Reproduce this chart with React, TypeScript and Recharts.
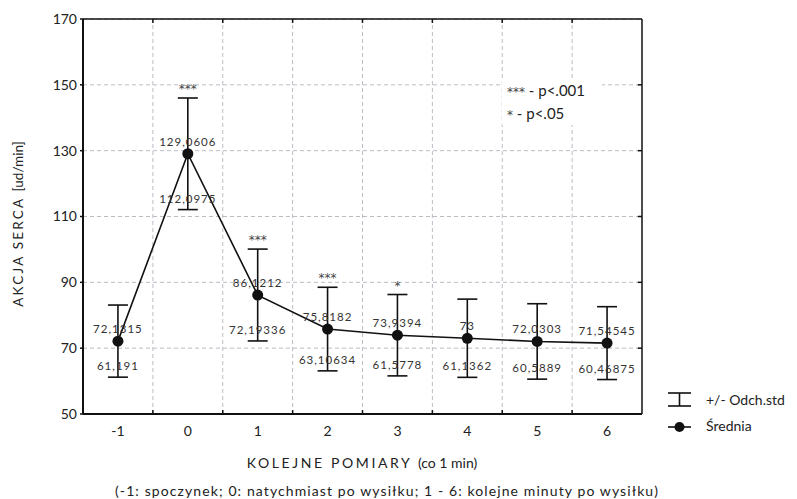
import React from 'react';
import {
  ComposedChart,
  Line,
  XAxis,
  YAxis,
  CartesianGrid,
  ErrorBar,
  LabelList,
  ReferenceLine,
} from 'recharts';

// pomiary: -1 spoczynek, 0 zaraz po wysiłku, 1-6 kolejne minuty
const pomiary = [-1, 0, 1, 2, 3, 4, 5, 6];
const srednia = [72.1315, 129.0606, 86.1212, 75.8182, 73.9394, 73, 72.0303, 71.54545];
const dolna = [61.191, 112.0975, 72.19336, 63.10634, 61.5778, 61.1362, 60.5889, 60.46875];
const gorna = [83.1, 146, 100.1, 88.5, 86.3, 84.9, 83.5, 82.6];
const istotnosc = ['', '***', '***', '***', '*', '', '', ''];

const yTicks = [50, 70, 90, 110, 130, 150, 170];
const granice = [-0.5, 0.5, 1.5, 2.5, 3.5, 4.5, 5.5];

const data = pomiary.map((p, i) => ({
  pomiar: p,
  srednia: srednia[i],
  dolna: dolna[i],
  gorna: gorna[i],
  odch: [srednia[i] - dolna[i], gorna[i] - srednia[i]],
  gwiazdki: istotnosc[i],
}));

const FONT = 'Lato, "Open Sans", sans-serif';
const STAR_FONT = '"DejaVu Sans", sans-serif';
const plNum = (v: any) => String(v).replace('.', ',');

const gridStroke = '#b9bdc4';

export default function App() {
  return (
    <div style={{ position: 'absolute', left: 0, top: 0, width: 797, height: 499, background: '#fff', fontFamily: FONT }}>
      <ComposedChart
        width={797}
        height={499}
        data={data}
        margin={{ top: 19, right: 155, left: 23, bottom: 55 }}
      >
        <CartesianGrid vertical={false} stroke={gridStroke} strokeDasharray="4 3" />
        {granice.map((g) => (
          <ReferenceLine key={'v' + g} x={g} stroke={gridStroke} strokeDasharray="4 3" />
        ))}
        {granice.map((g) => (
          <ReferenceLine key={'b' + g} segment={[{ x: g, y: 50 }, { x: g, y: 51.2 }]} stroke="#111" strokeWidth={1.5} />
        ))}
        {granice.map((g) => (
          <ReferenceLine key={'t' + g} segment={[{ x: g, y: 168.8 }, { x: g, y: 170 }]} stroke="#111" strokeWidth={1.5} />
        ))}
        {yTicks.slice(1, -1).map((t) => (
          <ReferenceLine key={'r' + t} segment={[{ x: 6.44, y: t }, { x: 6.5, y: t }]} stroke="#111" strokeWidth={1.5} />
        ))}
        <ReferenceLine y={170} stroke="#111" strokeWidth={1.5} />
        <ReferenceLine x={6.5} stroke="#111" strokeWidth={1.5} />
        <XAxis
          dataKey="pomiar"
          type="number"
          domain={[-1.5, 6.5]}
          ticks={pomiary}
          interval={0}
          axisLine={{ stroke: '#111', strokeWidth: 2 }}
          tickLine={false}
          tickSize={6}
          tickMargin={6}
          height={30}
          tick={{ fontSize: 14, fill: '#222', fontFamily: FONT }}
        />
        <YAxis
          type="number"
          domain={[50, 170]}
          ticks={yTicks}
          interval={0}
          width={60}
          axisLine={{ stroke: '#111', strokeWidth: 2 }}
          tickLine={{ stroke: '#111', strokeWidth: 1.5 }}
          tickSize={3}
          tickMargin={3}
          tick={{ fontSize: 14, fill: '#222', fontFamily: FONT }}
        />
        {/* etykiety dolnych granic odchylenia */}
        <Line dataKey="dolna" stroke="none" dot={false} activeDot={false} legendType="none" isAnimationActive={false}>
          <LabelList
            dataKey="dolna"
            position="top"
            offset={7}
            formatter={plNum}
            style={{ fontSize: 11.5, fill: '#333', letterSpacing: 1, fontFamily: FONT }}
          />
        </Line>
        {/* gwiazdki istotności nad górną granicą */}
        <Line dataKey="gorna" stroke="none" dot={false} activeDot={false} legendType="none" isAnimationActive={false}>
          <LabelList
            dataKey="gwiazdki"
            position="top"
            offset={5}
            style={{ fontSize: 12, fill: '#444', fontFamily: STAR_FONT }}
          />
        </Line>
        <Line
          dataKey="srednia"
          stroke="#111"
          strokeWidth={1.6}
          dot={{ r: 5.5, fill: '#111', stroke: '#111', strokeWidth: 0 }}
          activeDot={false}
          isAnimationActive={false}
        >
          <ErrorBar dataKey="odch" width={10} stroke="#111" strokeWidth={1.6} direction="y" />
          <LabelList
            dataKey="srednia"
            position="top"
            offset={8}
            formatter={plNum}
            style={{ fontSize: 11.5, fill: '#333', letterSpacing: 1, fontFamily: FONT }}
          />
        </Line>
      </ComposedChart>

      {/* opis istotności */}
      <div
        style={{
          position: 'absolute',
          left: 502,
          top: 80,
          width: 100,
          height: 45,
          background: '#fff',
          fontSize: 15,
          color: '#222',
          lineHeight: '21px',
          paddingLeft: 5,
          boxSizing: 'border-box',
          whiteSpace: 'nowrap',
        }}
      >
        <div><span style={{ color: '#444', fontSize: 12, fontFamily: STAR_FONT }}>***</span> - p&lt;.001</div>
        <div><span style={{ color: '#444', fontSize: 12, fontFamily: STAR_FONT }}>*</span> - p&lt;.05</div>
      </div>

      {/* tytuł osi Y */}
      <div
        style={{
          position: 'absolute',
          left: 18,
          top: 224,
          transform: 'translate(-50%, -50%) rotate(-90deg)',
          whiteSpace: 'nowrap',
          fontSize: 13.5,
          color: '#222',
        }}
      >
        <span style={{ letterSpacing: 2.2 }}>AKCJA SERCA </span>[ud/min]
      </div>

      {/* tytuł osi X i objaśnienie */}
      <div
        style={{
          position: 'absolute',
          left: 362,
          top: 462,
          transform: 'translate(-50%, -50%)',
          whiteSpace: 'nowrap',
          fontSize: 14,
          color: '#222',
        }}
      >
        <span style={{ letterSpacing: 2.6 }}>KOLEJNE POMIARY </span>(co 1 min)
      </div>
      <div
        style={{
          position: 'absolute',
          left: 387,
          top: 490,
          transform: 'translate(-50%, -50%)',
          whiteSpace: 'nowrap',
          fontSize: 14,
          letterSpacing: 1.1,
          color: '#222',
        }}
      >
        (-1: spoczynek; 0: natychmiast po wysiłku; 1 - 6: kolejne minuty po wysiłku)
      </div>

      {/* legenda */}
      <svg style={{ position: 'absolute', left: 660, top: 385 }} width={40} height={50}>
        <line x1={8} y1={8} x2={31} y2={8} stroke="#111" strokeWidth={1.6} />
        <line x1={8} y1={21} x2={31} y2={21} stroke="#111" strokeWidth={1.6} />
        <line x1={19.5} y1={8} x2={19.5} y2={21} stroke="#111" strokeWidth={1.6} />
        <line x1={8} y1={42} x2={31} y2={42} stroke="#111" strokeWidth={1.6} />
        <circle cx={19.5} cy={42} r={5} fill="#111" />
      </svg>
      <div style={{ position: 'absolute', left: 706, top: 391, fontSize: 14, color: '#222', whiteSpace: 'nowrap' }}>
        +/- Odch.std
      </div>
      <div style={{ position: 'absolute', left: 706, top: 417, fontSize: 14, color: '#222', whiteSpace: 'nowrap' }}>
        Średnia
      </div>
    </div>
  );
}
